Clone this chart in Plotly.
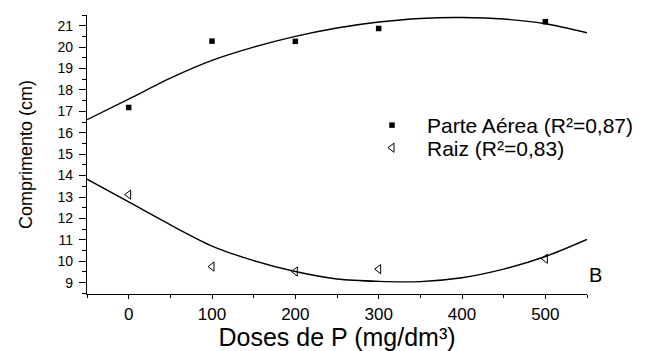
import plotly.graph_objects as go

# Observed data
doses = [0, 100, 200, 300, 500]
parte_aerea = [17.18, 20.28, 20.27, 20.87, 21.19]
raiz = [13.11, 9.75, 9.52, 9.63, 10.12]

# Fitted curves
curve_x = [-50, 0, 50, 100, 150, 200, 250, 300, 350, 400, 450, 500, 550]
curve_aerea = [16.61, 17.57, 18.55, 19.38, 20.0, 20.5, 20.89, 21.17, 21.34, 21.38, 21.31, 21.09, 20.67]
curve_raiz = [13.83, 12.77, 11.7, 10.71, 10.03, 9.52, 9.17, 9.06, 9.05, 9.23, 9.63, 10.22, 11.02]

x_ticks = [0, 100, 200, 300, 400, 500]
y_ticks = list(range(9, 22))

FONT = "Liberation Sans, Arial, sans-serif"

fig = go.Figure()
fig.add_trace(go.Scatter(x=curve_x, y=curve_aerea, mode="lines",
                         line=dict(color="black", width=1.4, shape="spline", smoothing=0.8),
                         showlegend=False, hoverinfo="skip"))
fig.add_trace(go.Scatter(x=curve_x, y=curve_raiz, mode="lines",
                         line=dict(color="black", width=1.4, shape="spline", smoothing=0.8),
                         showlegend=False, hoverinfo="skip"))
fig.add_trace(go.Scatter(x=doses, y=parte_aerea, mode="markers", name="Parte Aérea (R²=0,87)",
                         marker=dict(symbol="square", size=5.5, color="black"), legend="legend"))
fig.add_trace(go.Scatter(x=doses, y=raiz, mode="markers", name="Raiz (R²=0,83)",
                         marker=dict(symbol="triangle-left-open", size=8, color="black", line=dict(width=1)),
                         legend="legend2"))

leg_common = dict(xanchor="left", yanchor="middle", bgcolor="rgba(0,0,0,0)",
                  font=dict(size=21, family=FONT), itemwidth=60, borderwidth=0)

fig.update_layout(
    width=640, height=343,
    margin=dict(l=79, r=61, t=7, b=57),
    paper_bgcolor="white", plot_bgcolor="white",
    font=dict(family=FONT, color="black"),
    legend=dict(x=0.54, y=0.604, **leg_common),
    legend2=dict(x=0.54, y=0.523, **leg_common),
    xaxis=dict(range=[-50, 550], tickvals=x_ticks, showgrid=False, zeroline=False, automargin=False,
               showline=True, linecolor="black", linewidth=1.2,
               ticks="outside", ticklen=4, tickwidth=1, tickcolor="black",
               minor=dict(dtick=50, tick0=0, ticks="outside", ticklen=3, tickcolor="black"),
               tickfont=dict(size=17, family=FONT),
               title=dict(text="Doses de P (mg/dm³)", font=dict(size=25, family=FONT), standoff=8)),
    yaxis=dict(range=[8.47, 21.5], tickvals=y_ticks, showgrid=False, zeroline=False, automargin=False,
               showline=True, linecolor="black", linewidth=1.2,
               ticks="outside", ticklen=7, tickwidth=1, tickcolor="black", ticklabelstandoff=3,
               minor=dict(dtick=0.5, tick0=0, ticks="outside", ticklen=4, tickcolor="black"),
               tickfont=dict(size=14, family=FONT),
               title=dict(text="Comprimento (cm)", font=dict(size=18, family=FONT), standoff=20)),
    annotations=[dict(text="B", x=1.0, y=9.36, xref="paper", yref="y", xanchor="left", yanchor="middle",
                      showarrow=False, font=dict(size=20, family=FONT), xshift=0)],
)

fig.write_html("out.html")
